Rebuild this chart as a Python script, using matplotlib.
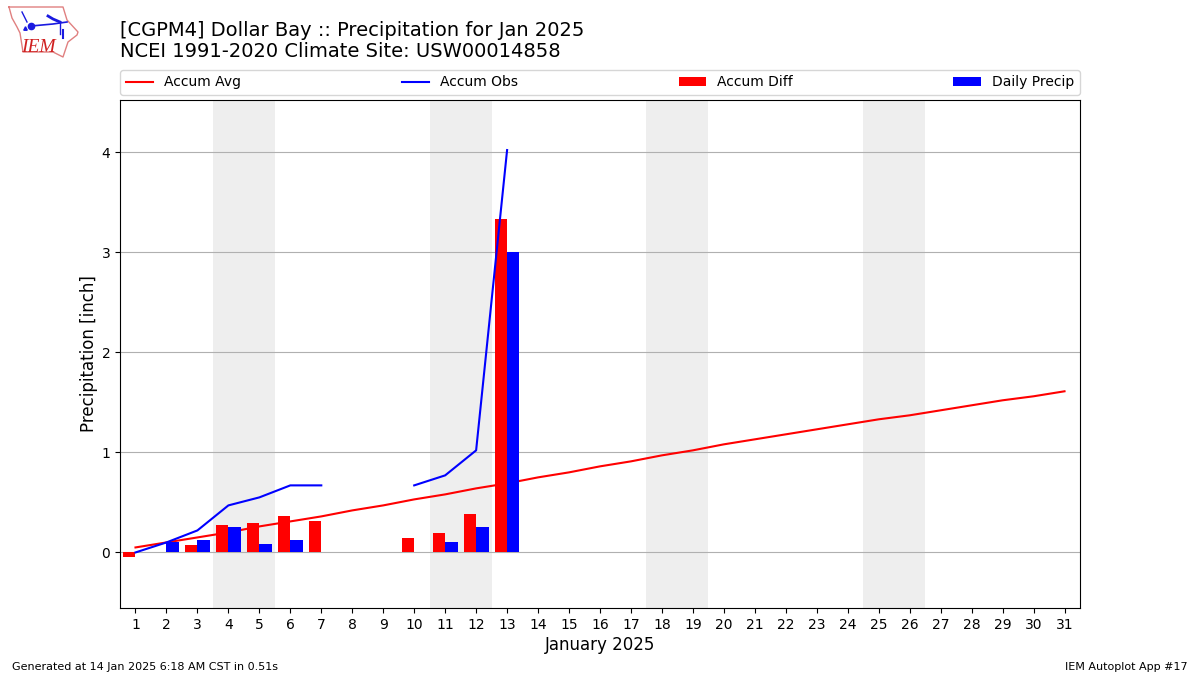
# -*- coding: utf-8 -*-
"""
IEM Autoplot 17 style monthly precipitation chart for Dollar Bay
"""

import numpy as np
import matplotlib
matplotlib.use("Agg")
import matplotlib.pyplot as plt

nan = np.nan

days = list(range(1, 32))
accum_avg = [0.05, 0.10, 0.15, 0.20, 0.26, 0.31, 0.36, 0.42, 0.47, 0.53, 0.58,
             0.64, 0.69, 0.75, 0.80, 0.86, 0.91, 0.97, 1.02, 1.08, 1.13, 1.18,
             1.23, 1.28, 1.33, 1.37, 1.42, 1.47, 1.52, 1.56, 1.61]
obs_days = list(range(1, 14))
accum_obs = [0.0, 0.10, 0.22, 0.47, 0.55, 0.67, 0.67, nan, nan, 0.67, 0.77, 1.02, 4.02]
accum_diff = [-0.05, 0.0, 0.07, 0.27, 0.29, 0.36, 0.31, nan, nan, 0.14, 0.19, 0.38, 3.33]
daily_precip = [0.0, 0.10, 0.12, 0.25, 0.08, 0.12, 0.0, nan, nan, 0.0, 0.10, 0.25, 3.00]
weekends = [(4, 5), (11, 12), (18, 19), (25, 26)]

fig = plt.figure(figsize=(12, 6.75), dpi=100)
ax = fig.add_axes([120 / 1200, 1 - 608 / 675, 960 / 1200, 508 / 675])

ax.plot(days, accum_avg, color="r", label="Accum Avg", zorder=2)
ax.plot(obs_days, accum_obs, color="b", label="Accum Obs", zorder=4)
ax.bar(np.array(obs_days) - 0.2, accum_diff, width=0.4, color="r", label="Accum Diff", zorder=3)
ax.bar(np.array(obs_days) + 0.2, daily_precip, width=0.4, color="b", label="Daily Precip", zorder=3)

# weekend shading
for start, end in weekends:
    ax.axvspan(start - 0.5, end + 0.5, color="#eeeeee", lw=0, zorder=0)

ax.set_xlim(0.5, 31.5)
ax.set_ylim(-0.555, 4.52)
ax.set_xticks(days)
ax.set_yticks([0, 1, 2, 3, 4])
ax.grid(True, axis="y", color="#b0b0b0", zorder=1)
ax.set_axisbelow(True)
ax.set_xlabel("January 2025", fontsize=12, labelpad=3.3)
ax.set_ylabel("Precipitation [inch]", fontsize=12, labelpad=2.6)

ax.legend(loc="lower left", bbox_to_anchor=(0, 1.01, 1, 0.05), ncol=4, mode="expand",
          borderaxespad=0, fontsize=10)

fig.text(120 / 1200, 1 - 36 / 675, "[CGPM4] Dollar Bay :: Precipitation for Jan 2025",
         fontsize=14, va="baseline")
fig.text(120 / 1200, 1 - 57 / 675, "NCEI 1991-2020 Climate Site: USW00014858",
         fontsize=14, va="baseline")
fig.text(12 / 1200, 1 - 670 / 675, "Generated at 14 Jan 2025 6:18 AM CST in 0.51s", fontsize=8, va="baseline")
fig.text(1188 / 1200, 1 - 670 / 675, "IEM Autoplot App #17", fontsize=8, ha="right", va="baseline")

# logo, pixel coordinates of the reference
logo = fig.add_axes([0, 1 - 70 / 675, 120 / 1200, 70 / 675])
logo.set_xlim(0, 120)
logo.set_ylim(70, 0)
logo.axis("off")
outline_x = [9, 63, 67, 78, 77, 68, 63, 53, 23, 20, 17, 12, 9]
outline_y = [7, 7, 20, 32, 35, 42, 57, 52, 52, 33, 27, 18, 7]
logo.plot(outline_x, outline_y, color="#e08080", lw=1)
logo.plot([31, 53, 67], [26, 24, 22], color="#1a1ae0", lw=1.2)
logo.plot([31], [26], "o", color="#1a1ae0", ms=4.5)
logo.plot([48, 53, 60], [16, 19, 22], color="#1a1ae0", lw=2)
logo.plot([60, 60], [23, 34], color="#1a1ae0", lw=1)
logo.plot([62.6, 62.6], [30, 38], color="#1a1ae0", lw=1.5)
logo.plot([22, 27], [12, 22], color="#1a1ae0", lw=1)
logo.plot([25], [28], "^", color="#1a1ae0", ms=2.5)
logo.text(21, 52, "IEM", family="Liberation Serif", style="italic", color="#d02020", fontsize=14)

fig.savefig("out.png", dpi=100)
